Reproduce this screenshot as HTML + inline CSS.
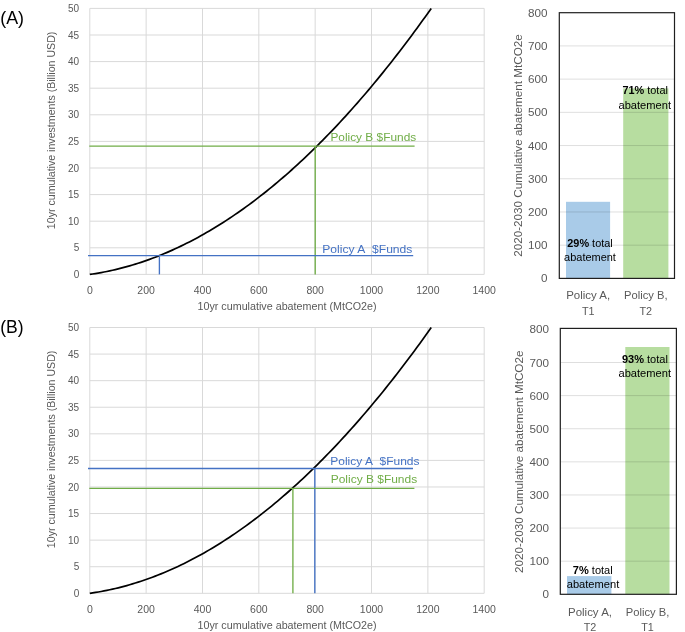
<!DOCTYPE html>
<html><head><meta charset="utf-8"><title>Figure</title>
<style>
html,body{margin:0;padding:0;background:#fff;}
svg{display:block;font-family:"Liberation Sans", sans-serif;}
svg{will-change:transform;}
</style></head><body>
<svg width="685" height="632" viewBox="0 0 685 632">
<rect width="685" height="632" fill="#fff"/>
<line x1="89.80" y1="274.40" x2="484.20" y2="274.40" stroke="#d9d9d9" stroke-width="1"/>
<line x1="89.80" y1="247.80" x2="484.20" y2="247.80" stroke="#d9d9d9" stroke-width="1"/>
<line x1="89.80" y1="221.20" x2="484.20" y2="221.20" stroke="#d9d9d9" stroke-width="1"/>
<line x1="89.80" y1="194.60" x2="484.20" y2="194.60" stroke="#d9d9d9" stroke-width="1"/>
<line x1="89.80" y1="168.00" x2="484.20" y2="168.00" stroke="#d9d9d9" stroke-width="1"/>
<line x1="89.80" y1="141.40" x2="484.20" y2="141.40" stroke="#d9d9d9" stroke-width="1"/>
<line x1="89.80" y1="114.80" x2="484.20" y2="114.80" stroke="#d9d9d9" stroke-width="1"/>
<line x1="89.80" y1="88.20" x2="484.20" y2="88.20" stroke="#d9d9d9" stroke-width="1"/>
<line x1="89.80" y1="61.60" x2="484.20" y2="61.60" stroke="#d9d9d9" stroke-width="1"/>
<line x1="89.80" y1="35.00" x2="484.20" y2="35.00" stroke="#d9d9d9" stroke-width="1"/>
<line x1="89.80" y1="8.40" x2="484.20" y2="8.40" stroke="#d9d9d9" stroke-width="1"/>
<line x1="89.80" y1="8.40" x2="89.80" y2="274.40" stroke="#d9d9d9" stroke-width="1"/>
<line x1="146.14" y1="8.40" x2="146.14" y2="274.40" stroke="#d9d9d9" stroke-width="1"/>
<line x1="202.49" y1="8.40" x2="202.49" y2="274.40" stroke="#d9d9d9" stroke-width="1"/>
<line x1="258.83" y1="8.40" x2="258.83" y2="274.40" stroke="#d9d9d9" stroke-width="1"/>
<line x1="315.17" y1="8.40" x2="315.17" y2="274.40" stroke="#d9d9d9" stroke-width="1"/>
<line x1="371.51" y1="8.40" x2="371.51" y2="274.40" stroke="#d9d9d9" stroke-width="1"/>
<line x1="427.86" y1="8.40" x2="427.86" y2="274.40" stroke="#d9d9d9" stroke-width="1"/>
<line x1="484.20" y1="8.40" x2="484.20" y2="274.40" stroke="#d9d9d9" stroke-width="1"/>
<text x="79.20" y="278.00" font-size="10" fill="#595959" text-anchor="end" >0</text>
<text x="79.20" y="251.40" font-size="10" fill="#595959" text-anchor="end" >5</text>
<text x="79.20" y="224.80" font-size="10" fill="#595959" text-anchor="end" >10</text>
<text x="79.20" y="198.20" font-size="10" fill="#595959" text-anchor="end" >15</text>
<text x="79.20" y="171.60" font-size="10" fill="#595959" text-anchor="end" >20</text>
<text x="79.20" y="145.00" font-size="10" fill="#595959" text-anchor="end" >25</text>
<text x="79.20" y="118.40" font-size="10" fill="#595959" text-anchor="end" >30</text>
<text x="79.20" y="91.80" font-size="10" fill="#595959" text-anchor="end" >35</text>
<text x="79.20" y="65.20" font-size="10" fill="#595959" text-anchor="end" >40</text>
<text x="79.20" y="38.60" font-size="10" fill="#595959" text-anchor="end" >45</text>
<text x="79.20" y="12.00" font-size="10" fill="#595959" text-anchor="end" >50</text>
<text x="89.80" y="294.00" font-size="10.5" fill="#595959" text-anchor="middle" >0</text>
<text x="146.14" y="294.00" font-size="10.5" fill="#595959" text-anchor="middle" >200</text>
<text x="202.49" y="294.00" font-size="10.5" fill="#595959" text-anchor="middle" >400</text>
<text x="258.83" y="294.00" font-size="10.5" fill="#595959" text-anchor="middle" >600</text>
<text x="315.17" y="294.00" font-size="10.5" fill="#595959" text-anchor="middle" >800</text>
<text x="371.51" y="294.00" font-size="10.5" fill="#595959" text-anchor="middle" >1000</text>
<text x="427.86" y="294.00" font-size="10.5" fill="#595959" text-anchor="middle" >1200</text>
<text x="484.20" y="294.00" font-size="10.5" fill="#595959" text-anchor="middle" >1400</text>
<text x="287.00" y="309.80" font-size="10" fill="#595959" text-anchor="middle" textLength="179.00" lengthAdjust="spacingAndGlyphs" >10yr cumulative abatement (MtCO2e)</text>
<text transform="translate(55.2,130.40) rotate(-90)" font-size="10" fill="#595959" text-anchor="middle" textLength="197.5" lengthAdjust="spacingAndGlyphs">10yr cumulative investments (Billion USD)</text>
<polyline points="89.80,274.40 92.65,273.99 95.49,273.54 98.34,273.07 101.18,272.56 104.03,272.03 106.87,271.46 109.72,270.87 112.56,270.24 115.41,269.59 118.25,268.90 121.10,268.19 123.94,267.44 126.79,266.66 129.63,265.85 132.48,265.02 135.32,264.15 138.17,263.25 141.02,262.32 143.86,261.36 146.71,260.37 149.55,259.35 152.40,258.30 155.24,257.22 158.09,256.11 160.93,254.97 163.78,253.80 166.62,252.60 169.47,251.37 172.31,250.11 175.16,248.81 178.00,247.49 180.85,246.14 183.69,244.76 186.54,243.34 189.39,241.90 192.23,240.42 195.08,238.92 197.92,237.38 200.77,235.82 203.61,234.22 206.46,232.60 209.30,230.94 212.15,229.26 214.99,227.54 217.84,225.79 220.68,224.02 223.53,222.21 226.37,220.37 229.22,218.50 232.06,216.60 234.91,214.67 237.76,212.72 240.60,210.73 243.45,208.71 246.29,206.66 249.14,204.58 251.98,202.47 254.83,200.32 257.67,198.15 260.52,195.95 263.36,193.72 266.21,191.46 269.05,189.17 271.90,186.84 274.74,184.49 277.59,182.11 280.43,179.69 283.28,177.25 286.13,174.77 288.97,172.27 291.82,169.74 294.66,167.17 297.51,164.57 300.35,161.95 303.20,159.29 306.04,156.61 308.89,153.89 311.73,151.14 314.58,148.37 317.42,145.56 320.27,142.72 323.11,139.85 325.96,136.95 328.80,134.02 331.65,131.06 334.50,128.08 337.34,125.06 340.19,122.01 343.03,118.92 345.88,115.81 348.72,112.67 351.57,109.50 354.41,106.30 357.26,103.07 360.10,99.81 362.95,96.51 365.79,93.19 368.64,89.84 371.48,86.45 374.33,83.04 377.17,79.60 380.02,76.12 382.87,72.62 385.71,69.08 388.56,65.52 391.40,61.92 394.25,58.30 397.09,54.64 399.94,50.95 402.78,47.24 405.63,43.49 408.47,39.71 411.32,35.90 414.16,32.06 417.01,28.20 419.85,24.30 422.70,20.37 425.54,16.41 428.39,12.42 431.24,8.40" fill="none" stroke="#000" stroke-width="1.7" stroke-linejoin="round"/>
<line x1="89.3" y1="146.1" x2="414.6" y2="146.1" stroke="#70ad47" stroke-width="1.35"/>
<line x1="315.2" y1="146.1" x2="315.2" y2="274.4" stroke="#70ad47" stroke-width="1.35"/>
<line x1="88" y1="255.6" x2="413.2" y2="255.6" stroke="#4472c4" stroke-width="1.35"/>
<line x1="159.4" y1="257" x2="159.4" y2="274.4" stroke="#4472c4" stroke-width="1.35"/>
<text x="330.40" y="141.30" font-size="11.5" fill="#70ad47" text-anchor="start" textLength="85.80" lengthAdjust="spacingAndGlyphs" >Policy B $Funds</text>
<text x="322.20" y="252.90" font-size="11.5" fill="#4472c4" text-anchor="start" textLength="90.20" lengthAdjust="spacingAndGlyphs" >Policy A&#160;&#160;$Funds</text>
<text x="0.20" y="23.80" font-size="18" fill="#000" text-anchor="start" textLength="23.80" lengthAdjust="spacingAndGlyphs" >(A)</text>
<line x1="89.80" y1="593.30" x2="484.20" y2="593.30" stroke="#d9d9d9" stroke-width="1"/>
<line x1="89.80" y1="566.72" x2="484.20" y2="566.72" stroke="#d9d9d9" stroke-width="1"/>
<line x1="89.80" y1="540.14" x2="484.20" y2="540.14" stroke="#d9d9d9" stroke-width="1"/>
<line x1="89.80" y1="513.56" x2="484.20" y2="513.56" stroke="#d9d9d9" stroke-width="1"/>
<line x1="89.80" y1="486.98" x2="484.20" y2="486.98" stroke="#d9d9d9" stroke-width="1"/>
<line x1="89.80" y1="460.40" x2="484.20" y2="460.40" stroke="#d9d9d9" stroke-width="1"/>
<line x1="89.80" y1="433.82" x2="484.20" y2="433.82" stroke="#d9d9d9" stroke-width="1"/>
<line x1="89.80" y1="407.24" x2="484.20" y2="407.24" stroke="#d9d9d9" stroke-width="1"/>
<line x1="89.80" y1="380.66" x2="484.20" y2="380.66" stroke="#d9d9d9" stroke-width="1"/>
<line x1="89.80" y1="354.08" x2="484.20" y2="354.08" stroke="#d9d9d9" stroke-width="1"/>
<line x1="89.80" y1="327.50" x2="484.20" y2="327.50" stroke="#d9d9d9" stroke-width="1"/>
<line x1="89.80" y1="327.50" x2="89.80" y2="593.30" stroke="#d9d9d9" stroke-width="1"/>
<line x1="146.14" y1="327.50" x2="146.14" y2="593.30" stroke="#d9d9d9" stroke-width="1"/>
<line x1="202.49" y1="327.50" x2="202.49" y2="593.30" stroke="#d9d9d9" stroke-width="1"/>
<line x1="258.83" y1="327.50" x2="258.83" y2="593.30" stroke="#d9d9d9" stroke-width="1"/>
<line x1="315.17" y1="327.50" x2="315.17" y2="593.30" stroke="#d9d9d9" stroke-width="1"/>
<line x1="371.51" y1="327.50" x2="371.51" y2="593.30" stroke="#d9d9d9" stroke-width="1"/>
<line x1="427.86" y1="327.50" x2="427.86" y2="593.30" stroke="#d9d9d9" stroke-width="1"/>
<line x1="484.20" y1="327.50" x2="484.20" y2="593.30" stroke="#d9d9d9" stroke-width="1"/>
<text x="79.20" y="596.90" font-size="10" fill="#595959" text-anchor="end" >0</text>
<text x="79.20" y="570.32" font-size="10" fill="#595959" text-anchor="end" >5</text>
<text x="79.20" y="543.74" font-size="10" fill="#595959" text-anchor="end" >10</text>
<text x="79.20" y="517.16" font-size="10" fill="#595959" text-anchor="end" >15</text>
<text x="79.20" y="490.58" font-size="10" fill="#595959" text-anchor="end" >20</text>
<text x="79.20" y="464.00" font-size="10" fill="#595959" text-anchor="end" >25</text>
<text x="79.20" y="437.42" font-size="10" fill="#595959" text-anchor="end" >30</text>
<text x="79.20" y="410.84" font-size="10" fill="#595959" text-anchor="end" >35</text>
<text x="79.20" y="384.26" font-size="10" fill="#595959" text-anchor="end" >40</text>
<text x="79.20" y="357.68" font-size="10" fill="#595959" text-anchor="end" >45</text>
<text x="79.20" y="331.10" font-size="10" fill="#595959" text-anchor="end" >50</text>
<text x="89.80" y="612.90" font-size="10.5" fill="#595959" text-anchor="middle" >0</text>
<text x="146.14" y="612.90" font-size="10.5" fill="#595959" text-anchor="middle" >200</text>
<text x="202.49" y="612.90" font-size="10.5" fill="#595959" text-anchor="middle" >400</text>
<text x="258.83" y="612.90" font-size="10.5" fill="#595959" text-anchor="middle" >600</text>
<text x="315.17" y="612.90" font-size="10.5" fill="#595959" text-anchor="middle" >800</text>
<text x="371.51" y="612.90" font-size="10.5" fill="#595959" text-anchor="middle" >1000</text>
<text x="427.86" y="612.90" font-size="10.5" fill="#595959" text-anchor="middle" >1200</text>
<text x="484.20" y="612.90" font-size="10.5" fill="#595959" text-anchor="middle" >1400</text>
<text x="287.00" y="628.70" font-size="10" fill="#595959" text-anchor="middle" textLength="179.00" lengthAdjust="spacingAndGlyphs" >10yr cumulative abatement (MtCO2e)</text>
<text transform="translate(55.2,449.40) rotate(-90)" font-size="10" fill="#595959" text-anchor="middle" textLength="197.5" lengthAdjust="spacingAndGlyphs">10yr cumulative investments (Billion USD)</text>
<polyline points="89.80,593.30 92.65,592.89 95.49,592.44 98.34,591.97 101.18,591.47 104.03,590.93 106.87,590.37 109.72,589.77 112.56,589.15 115.41,588.49 118.25,587.81 121.10,587.09 123.94,586.34 126.79,585.57 129.63,584.76 132.48,583.92 135.32,583.06 138.17,582.16 141.02,581.23 143.86,580.27 146.71,579.28 149.55,578.27 152.40,577.22 155.24,576.14 158.09,575.03 160.93,573.89 163.78,572.72 166.62,571.52 169.47,570.29 172.31,569.02 175.16,567.73 178.00,566.41 180.85,565.06 183.69,563.68 186.54,562.27 189.39,560.82 192.23,559.35 195.08,557.85 197.92,556.31 200.77,554.75 203.61,553.15 206.46,551.53 209.30,549.88 212.15,548.19 214.99,546.47 217.84,544.73 220.68,542.95 223.53,541.15 226.37,539.31 229.22,537.44 232.06,535.55 234.91,533.62 237.76,531.66 240.60,529.67 243.45,527.66 246.29,525.61 249.14,523.53 251.98,521.42 254.83,519.28 257.67,517.11 260.52,514.91 263.36,512.68 266.21,510.42 269.05,508.13 271.90,505.81 274.74,503.46 277.59,501.08 280.43,498.66 283.28,496.22 286.13,493.75 288.97,491.25 291.82,488.71 294.66,486.15 297.51,483.56 300.35,480.93 303.20,478.28 306.04,475.59 308.89,472.88 311.73,470.14 314.58,467.36 317.42,464.55 320.27,461.72 323.11,458.85 325.96,455.96 328.80,453.03 331.65,450.07 334.50,447.09 337.34,444.07 340.19,441.02 343.03,437.94 345.88,434.83 348.72,431.69 351.57,428.53 354.41,425.33 357.26,422.10 360.10,418.84 362.95,415.55 365.79,412.23 368.64,408.88 371.48,405.50 374.33,402.08 377.17,398.64 380.02,395.17 382.87,391.67 385.71,388.14 388.56,384.57 391.40,380.98 394.25,377.36 397.09,373.70 399.94,370.02 402.78,366.31 405.63,362.56 408.47,358.79 411.32,354.98 414.16,351.15 417.01,347.28 419.85,343.39 422.70,339.46 425.54,335.50 428.39,331.52 431.24,327.50" fill="none" stroke="#000" stroke-width="1.7" stroke-linejoin="round"/>
<line x1="88" y1="468.5" x2="413" y2="468.5" stroke="#4472c4" stroke-width="1.35"/>
<line x1="314.8" y1="468.5" x2="314.8" y2="593.3" stroke="#4472c4" stroke-width="1.35"/>
<line x1="89.3" y1="488.4" x2="414.4" y2="488.4" stroke="#70ad47" stroke-width="1.35"/>
<line x1="292.9" y1="488.4" x2="292.9" y2="593.3" stroke="#70ad47" stroke-width="1.35"/>
<text x="330.30" y="465.20" font-size="11.5" fill="#4472c4" text-anchor="start" textLength="89.20" lengthAdjust="spacingAndGlyphs" >Policy A&#160;&#160;$Funds</text>
<text x="330.70" y="482.70" font-size="11.5" fill="#70ad47" text-anchor="start" textLength="86.50" lengthAdjust="spacingAndGlyphs" >Policy B $Funds</text>
<text x="0.20" y="332.80" font-size="18" fill="#000" text-anchor="start" textLength="23.40" lengthAdjust="spacingAndGlyphs" >(B)</text>
<rect x="566.00" y="201.80" width="44.10" height="76.60" fill="#a9cbe8"/>
<rect x="623.20" y="88.40" width="45.20" height="190.00" fill="#b7dda0"/>
<line x1="559.30" y1="245.19" x2="674.50" y2="245.19" stroke="#000" stroke-opacity="0.13" stroke-width="1"/>
<line x1="559.30" y1="211.97" x2="674.50" y2="211.97" stroke="#000" stroke-opacity="0.13" stroke-width="1"/>
<line x1="559.30" y1="178.76" x2="674.50" y2="178.76" stroke="#000" stroke-opacity="0.13" stroke-width="1"/>
<line x1="559.30" y1="145.55" x2="674.50" y2="145.55" stroke="#000" stroke-opacity="0.13" stroke-width="1"/>
<line x1="559.30" y1="112.34" x2="674.50" y2="112.34" stroke="#000" stroke-opacity="0.13" stroke-width="1"/>
<line x1="559.30" y1="79.12" x2="674.50" y2="79.12" stroke="#000" stroke-opacity="0.13" stroke-width="1"/>
<line x1="559.30" y1="45.91" x2="674.50" y2="45.91" stroke="#000" stroke-opacity="0.13" stroke-width="1"/>
<rect x="559.30" y="12.70" width="115.20" height="265.70" fill="none" stroke="#1f1f1f" stroke-width="1.2"/>
<text x="547.60" y="282.40" font-size="11" fill="#595959" text-anchor="end" textLength="6.50" lengthAdjust="spacingAndGlyphs" >0</text>
<text x="547.60" y="249.19" font-size="11" fill="#595959" text-anchor="end" textLength="19.50" lengthAdjust="spacingAndGlyphs" >100</text>
<text x="547.60" y="215.97" font-size="11" fill="#595959" text-anchor="end" textLength="19.50" lengthAdjust="spacingAndGlyphs" >200</text>
<text x="547.60" y="182.76" font-size="11" fill="#595959" text-anchor="end" textLength="19.50" lengthAdjust="spacingAndGlyphs" >300</text>
<text x="547.60" y="149.55" font-size="11" fill="#595959" text-anchor="end" textLength="19.50" lengthAdjust="spacingAndGlyphs" >400</text>
<text x="547.60" y="116.34" font-size="11" fill="#595959" text-anchor="end" textLength="19.50" lengthAdjust="spacingAndGlyphs" >500</text>
<text x="547.60" y="83.12" font-size="11" fill="#595959" text-anchor="end" textLength="19.50" lengthAdjust="spacingAndGlyphs" >600</text>
<text x="547.60" y="49.91" font-size="11" fill="#595959" text-anchor="end" textLength="19.50" lengthAdjust="spacingAndGlyphs" >700</text>
<text x="547.60" y="16.70" font-size="11" fill="#595959" text-anchor="end" textLength="19.50" lengthAdjust="spacingAndGlyphs" >800</text>
<text transform="translate(522,145.55) rotate(-90)" font-size="11" fill="#595959" text-anchor="middle" textLength="222.5" lengthAdjust="spacingAndGlyphs">2020-2030 Cumulative abatement MtCO2e</text>
<text x="588.20" y="298.60" font-size="11" fill="#595959" text-anchor="middle" textLength="44.00" lengthAdjust="spacingAndGlyphs" >Policy A,</text>
<text x="588.20" y="314.60" font-size="11" fill="#595959" text-anchor="middle" textLength="12.60" lengthAdjust="spacingAndGlyphs" >T1</text>
<text x="645.80" y="298.60" font-size="11" fill="#595959" text-anchor="middle" textLength="43.50" lengthAdjust="spacingAndGlyphs" >Policy B,</text>
<text x="645.80" y="314.60" font-size="11" fill="#595959" text-anchor="middle" textLength="12.60" lengthAdjust="spacingAndGlyphs" >T2</text>
<text x="567.30" y="246.50" font-size="11" fill="#000" textLength="45.40" lengthAdjust="spacingAndGlyphs"><tspan font-weight="bold">29%</tspan> total</text>
<text x="564.10" y="261.00" font-size="11" fill="#000" textLength="51.80" lengthAdjust="spacingAndGlyphs">abatement</text>
<text x="622.40" y="94.20" font-size="11" fill="#000" textLength="45.50" lengthAdjust="spacingAndGlyphs"><tspan font-weight="bold">71%</tspan> total</text>
<text x="618.50" y="108.60" font-size="11" fill="#000" textLength="52.50" lengthAdjust="spacingAndGlyphs">abatement</text>
<rect x="567.00" y="576.10" width="44.40" height="18.20" fill="#a9cbe8"/>
<rect x="625.30" y="347.00" width="44.20" height="247.30" fill="#b7dda0"/>
<line x1="560.30" y1="561.19" x2="676.40" y2="561.19" stroke="#000" stroke-opacity="0.13" stroke-width="1"/>
<line x1="560.30" y1="528.07" x2="676.40" y2="528.07" stroke="#000" stroke-opacity="0.13" stroke-width="1"/>
<line x1="560.30" y1="494.96" x2="676.40" y2="494.96" stroke="#000" stroke-opacity="0.13" stroke-width="1"/>
<line x1="560.30" y1="461.85" x2="676.40" y2="461.85" stroke="#000" stroke-opacity="0.13" stroke-width="1"/>
<line x1="560.30" y1="428.74" x2="676.40" y2="428.74" stroke="#000" stroke-opacity="0.13" stroke-width="1"/>
<line x1="560.30" y1="395.62" x2="676.40" y2="395.62" stroke="#000" stroke-opacity="0.13" stroke-width="1"/>
<line x1="560.30" y1="362.51" x2="676.40" y2="362.51" stroke="#000" stroke-opacity="0.13" stroke-width="1"/>
<rect x="560.30" y="328.40" width="116.10" height="265.90" fill="none" stroke="#1f1f1f" stroke-width="1.2"/>
<text x="549.00" y="598.30" font-size="11" fill="#595959" text-anchor="end" textLength="6.50" lengthAdjust="spacingAndGlyphs" >0</text>
<text x="549.00" y="565.19" font-size="11" fill="#595959" text-anchor="end" textLength="19.50" lengthAdjust="spacingAndGlyphs" >100</text>
<text x="549.00" y="532.07" font-size="11" fill="#595959" text-anchor="end" textLength="19.50" lengthAdjust="spacingAndGlyphs" >200</text>
<text x="549.00" y="498.96" font-size="11" fill="#595959" text-anchor="end" textLength="19.50" lengthAdjust="spacingAndGlyphs" >300</text>
<text x="549.00" y="465.85" font-size="11" fill="#595959" text-anchor="end" textLength="19.50" lengthAdjust="spacingAndGlyphs" >400</text>
<text x="549.00" y="432.74" font-size="11" fill="#595959" text-anchor="end" textLength="19.50" lengthAdjust="spacingAndGlyphs" >500</text>
<text x="549.00" y="399.62" font-size="11" fill="#595959" text-anchor="end" textLength="19.50" lengthAdjust="spacingAndGlyphs" >600</text>
<text x="549.00" y="366.51" font-size="11" fill="#595959" text-anchor="end" textLength="19.50" lengthAdjust="spacingAndGlyphs" >700</text>
<text x="549.00" y="333.40" font-size="11" fill="#595959" text-anchor="end" textLength="19.50" lengthAdjust="spacingAndGlyphs" >800</text>
<text transform="translate(523.1,461.85) rotate(-90)" font-size="11" fill="#595959" text-anchor="middle" textLength="222.5" lengthAdjust="spacingAndGlyphs">2020-2030 Cumulative abatement MtCO2e</text>
<text x="590.00" y="615.50" font-size="11" fill="#595959" text-anchor="middle" textLength="44.00" lengthAdjust="spacingAndGlyphs" >Policy A,</text>
<text x="590.00" y="631.30" font-size="11" fill="#595959" text-anchor="middle" textLength="12.60" lengthAdjust="spacingAndGlyphs" >T2</text>
<text x="647.50" y="615.50" font-size="11" fill="#595959" text-anchor="middle" textLength="43.50" lengthAdjust="spacingAndGlyphs" >Policy B,</text>
<text x="647.50" y="631.30" font-size="11" fill="#595959" text-anchor="middle" textLength="12.60" lengthAdjust="spacingAndGlyphs" >T1</text>
<text x="572.80" y="573.50" font-size="11" fill="#000" textLength="39.90" lengthAdjust="spacingAndGlyphs"><tspan font-weight="bold">7%</tspan> total</text>
<text x="566.70" y="588.20" font-size="11" fill="#000" textLength="52.60" lengthAdjust="spacingAndGlyphs">abatement</text>
<text x="621.90" y="363.30" font-size="11" fill="#000" textLength="46.00" lengthAdjust="spacingAndGlyphs"><tspan font-weight="bold">93%</tspan> total</text>
<text x="618.50" y="377.00" font-size="11" fill="#000" textLength="52.50" lengthAdjust="spacingAndGlyphs">abatement</text>
</svg>
</body></html>
